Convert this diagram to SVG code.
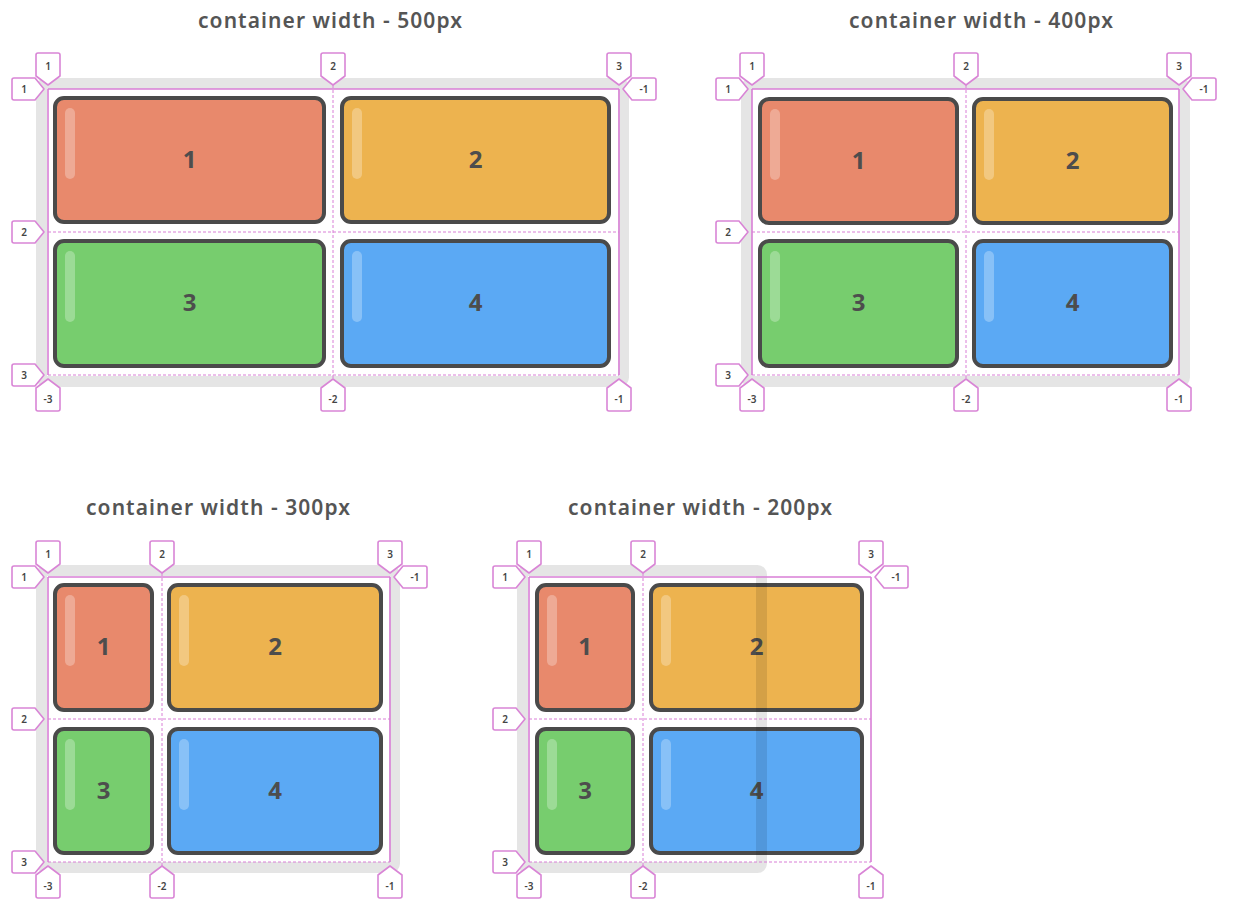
<svg xmlns="http://www.w3.org/2000/svg" xmlns:xlink="http://www.w3.org/1999/xlink" width="1260" height="908" viewBox="0 0 1260 908">
<defs>
<style>
.title{font-family:"Noto Sans","Liberation Sans",sans-serif;font-size:21px;font-weight:600;fill:#555;text-anchor:middle}
.cont{fill:none;stroke:#000;stroke-opacity:0.1;stroke-width:11}
.tile{stroke:#4a4a4a;stroke-width:4}
.t1{fill:#e8896c}.t2{fill:#edb34f}.t3{fill:#77cd6e}.t4{fill:#5ba9f4}
.hl{fill:#fff;fill-opacity:0.28}
.num{font-family:"Noto Sans","Liberation Sans",sans-serif;font-size:24px;font-weight:700;fill:#4d4d4d;text-anchor:middle}
.ln{stroke:#d97fd6;stroke-width:1.6;fill:none}
.dl{stroke:#d97fd6;stroke-width:1;stroke-dasharray:3 2;fill:none}
.tag{fill:#fff;stroke:#d985d6;stroke-width:1.6;stroke-linejoin:round}
.tt{font-family:"Noto Sans","Liberation Sans",sans-serif;font-size:10px;font-weight:600;fill:#444;text-anchor:middle}
</style>
<path id="tagD" d="M-12,-34 q0,-2 2,-2 h20 q2,0 2,2 v21 l-12,9 l-12,-9 z"/>
<path id="tagU" d="M-12,34 q0,2 2,2 h20 q2,0 2,-2 v-21 l-12,-9 l-12,9 z"/>
<path id="tagR" d="M-34,-11 q-2,0 -2,2 v18 q0,2 2,2 h21 l9,-11 l-9,-11 z"/>
<path id="tagL" d="M35,-11 q2,0 2,2 v18 q0,2 -2,2 h-22 l-9,-11 l9,-11 z"/>
</defs>
<rect width="1260" height="908" fill="#fff"/>

<!-- Panel 1 -->
<g id="panel1">
<text class="title" x="330" y="28" textLength="264" lengthAdjust="spacing">container width - 500px</text>
<g id="p1-tile1"><rect class="tile t1" x="55" y="98" width="269" height="124" rx="9"/><rect class="hl" x="65" y="108" width="10" height="71" rx="5"/><text class="num" x="189.5" y="168">1</text></g>
<g id="p1-tile2"><rect class="tile t2" x="342" y="98" width="267" height="124" rx="9"/><rect class="hl" x="352" y="108" width="10" height="71" rx="5"/><text class="num" x="475.5" y="168">2</text></g>
<g id="p1-tile3"><rect class="tile t3" x="55" y="241" width="269" height="125" rx="9"/><rect class="hl" x="65" y="251" width="10" height="71" rx="5"/><text class="num" x="189.5" y="311">3</text></g>
<g id="p1-tile4"><rect class="tile t4" x="342" y="241" width="267" height="125" rx="9"/><rect class="hl" x="352" y="251" width="10" height="71" rx="5"/><text class="num" x="475.5" y="311">4</text></g>
<rect id="p1-container" class="cont" x="41.5" y="83.5" width="582" height="298" rx="4"/>
</g>

<!-- Panel 2 -->
<g id="panel2">
<text class="title" x="981" y="28" textLength="264" lengthAdjust="spacing">container width - 400px</text>
<g id="p2-tile1"><rect class="tile t1" x="760" y="99" width="197" height="124" rx="9"/><rect class="hl" x="770" y="109" width="10" height="71" rx="5"/><text class="num" x="858.5" y="169">1</text></g>
<g id="p2-tile2"><rect class="tile t2" x="974" y="99" width="197" height="124" rx="9"/><rect class="hl" x="984" y="109" width="10" height="71" rx="5"/><text class="num" x="1072.5" y="169">2</text></g>
<g id="p2-tile3"><rect class="tile t3" x="760" y="241" width="197" height="125" rx="9"/><rect class="hl" x="770" y="251" width="10" height="71" rx="5"/><text class="num" x="858.5" y="311">3</text></g>
<g id="p2-tile4"><rect class="tile t4" x="974" y="241" width="197" height="125" rx="9"/><rect class="hl" x="984" y="251" width="10" height="71" rx="5"/><text class="num" x="1072.5" y="311">4</text></g>
<rect id="p2-container" class="cont" x="746.5" y="83.5" width="438" height="298" rx="4"/>
</g>

<!-- Panel 3 -->
<g id="panel3">
<text class="title" x="218" y="515" textLength="264" lengthAdjust="spacing">container width - 300px</text>
<g id="p3-tile1"><rect class="tile t1" x="55" y="585" width="97" height="125" rx="9"/><rect class="hl" x="65" y="595" width="10" height="71" rx="5"/><text class="num" x="103.5" y="655">1</text></g>
<g id="p3-tile2"><rect class="tile t2" x="169" y="585" width="212" height="125" rx="9"/><rect class="hl" x="179" y="595" width="10" height="71" rx="5"/><text class="num" x="275" y="655">2</text></g>
<g id="p3-tile3"><rect class="tile t3" x="55" y="729" width="97" height="124" rx="9"/><rect class="hl" x="65" y="739" width="10" height="71" rx="5"/><text class="num" x="103.5" y="799">3</text></g>
<g id="p3-tile4"><rect class="tile t4" x="169" y="729" width="212" height="124" rx="9"/><rect class="hl" x="179" y="739" width="10" height="71" rx="5"/><text class="num" x="275" y="799">4</text></g>
<rect id="p3-container" class="cont" x="41.5" y="570.5" width="353" height="297" rx="4"/>
</g>

<!-- Panel 4 -->
<g id="panel4">
<text class="title" x="700" y="515" textLength="264" lengthAdjust="spacing">container width - 200px</text>
<g id="p4-tile1"><rect class="tile t1" x="537" y="585" width="96" height="125" rx="9"/><rect class="hl" x="547" y="595" width="10" height="71" rx="5"/><text class="num" x="585" y="655">1</text></g>
<g id="p4-tile2"><rect class="tile t2" x="651" y="585" width="211" height="125" rx="9"/><rect class="hl" x="661" y="595" width="10" height="71" rx="5"/><text class="num" x="756.5" y="655">2</text></g>
<g id="p4-tile3"><rect class="tile t3" x="537" y="729" width="96" height="124" rx="9"/><rect class="hl" x="547" y="739" width="10" height="71" rx="5"/><text class="num" x="585" y="799">3</text></g>
<g id="p4-tile4"><rect class="tile t4" x="651" y="729" width="211" height="124" rx="9"/><rect class="hl" x="661" y="739" width="10" height="71" rx="5"/><text class="num" x="756.5" y="799">4</text></g>
<rect id="p4-container" class="cont" x="522.5" y="570.5" width="239" height="297" rx="4"/>
</g>

<!-- Grid lines -->
<g id="connectors">
<path class="ln" d="M48,89 H619 M48,89 V375 M619,89 V375"/>
<path class="dl" d="M48,232 H619 M48,375 H619 M333,85 V379"/>
<path class="ln" d="M752,89 H1179 M752,89 V375 M1179,89 V375"/>
<path class="dl" d="M752,232 H1179 M752,375 H1179 M966,85 V379"/>
<path class="ln" d="M48,577 H390 M48,577 V862 M390,577 V862"/>
<path class="dl" d="M48,719 H390 M48,862 H390 M162,573 V866"/>
<path class="ln" d="M529,577 H871 M529,577 V862 M871,577 V862"/>
<path class="dl" d="M529,719 H871 M529,862 H871 M643,573 V866"/>
</g>

<!-- Tags panel 1 -->
<g id="p1-tags">
<use href="#tagD" class="tag" x="48" y="89"/><text class="tt" x="48" y="70">1</text>
<use href="#tagD" class="tag" x="333" y="89"/><text class="tt" x="333" y="70">2</text>
<use href="#tagD" class="tag" x="619" y="89"/><text class="tt" x="619" y="70">3</text>
<use href="#tagR" class="tag" x="48" y="89"/><text class="tt" x="24" y="92.5">1</text>
<use href="#tagR" class="tag" x="48" y="232"/><text class="tt" x="24" y="235.5">2</text>
<use href="#tagR" class="tag" x="48" y="375"/><text class="tt" x="24" y="378.5">3</text>
<use href="#tagL" class="tag" x="619" y="89"/><text class="tt" x="644" y="92.5">-1</text>
<use href="#tagU" class="tag" x="48" y="375"/><text class="tt" x="48" y="403">-3</text>
<use href="#tagU" class="tag" x="333" y="375"/><text class="tt" x="333" y="403">-2</text>
<use href="#tagU" class="tag" x="619" y="375"/><text class="tt" x="619" y="403">-1</text>
</g>
<!-- Tags panel 2 -->
<g id="p2-tags">
<use href="#tagD" class="tag" x="752" y="89"/><text class="tt" x="752" y="70">1</text>
<use href="#tagD" class="tag" x="966" y="89"/><text class="tt" x="966" y="70">2</text>
<use href="#tagD" class="tag" x="1179" y="89"/><text class="tt" x="1179" y="70">3</text>
<use href="#tagR" class="tag" x="752" y="89"/><text class="tt" x="728" y="92.5">1</text>
<use href="#tagR" class="tag" x="752" y="232"/><text class="tt" x="728" y="235.5">2</text>
<use href="#tagR" class="tag" x="752" y="375"/><text class="tt" x="728" y="378.5">3</text>
<use href="#tagL" class="tag" x="1179" y="89"/><text class="tt" x="1204" y="92.5">-1</text>
<use href="#tagU" class="tag" x="752" y="375"/><text class="tt" x="752" y="403">-3</text>
<use href="#tagU" class="tag" x="966" y="375"/><text class="tt" x="966" y="403">-2</text>
<use href="#tagU" class="tag" x="1179" y="375"/><text class="tt" x="1179" y="403">-1</text>
</g>
<!-- Tags panel 3 -->
<g id="p3-tags">
<use href="#tagD" class="tag" x="48" y="577"/><text class="tt" x="48" y="558">1</text>
<use href="#tagD" class="tag" x="162" y="577"/><text class="tt" x="162" y="558">2</text>
<use href="#tagD" class="tag" x="390" y="577"/><text class="tt" x="390" y="558">3</text>
<use href="#tagR" class="tag" x="48" y="577"/><text class="tt" x="24" y="580.5">1</text>
<use href="#tagR" class="tag" x="48" y="719"/><text class="tt" x="24" y="722.5">2</text>
<use href="#tagR" class="tag" x="48" y="862"/><text class="tt" x="24" y="865.5">3</text>
<use href="#tagL" class="tag" x="390" y="577"/><text class="tt" x="415" y="580.5">-1</text>
<use href="#tagU" class="tag" x="48" y="862"/><text class="tt" x="48" y="890">-3</text>
<use href="#tagU" class="tag" x="162" y="862"/><text class="tt" x="162" y="890">-2</text>
<use href="#tagU" class="tag" x="390" y="862"/><text class="tt" x="390" y="890">-1</text>
</g>
<!-- Tags panel 4 -->
<g id="p4-tags">
<use href="#tagD" class="tag" x="529" y="577"/><text class="tt" x="529" y="558">1</text>
<use href="#tagD" class="tag" x="643" y="577"/><text class="tt" x="643" y="558">2</text>
<use href="#tagD" class="tag" x="871" y="577"/><text class="tt" x="871" y="558">3</text>
<use href="#tagR" class="tag" x="529" y="577"/><text class="tt" x="505" y="580.5">1</text>
<use href="#tagR" class="tag" x="529" y="719"/><text class="tt" x="505" y="722.5">2</text>
<use href="#tagR" class="tag" x="529" y="862"/><text class="tt" x="505" y="865.5">3</text>
<use href="#tagL" class="tag" x="871" y="577"/><text class="tt" x="896" y="580.5">-1</text>
<use href="#tagU" class="tag" x="529" y="862"/><text class="tt" x="529" y="890">-3</text>
<use href="#tagU" class="tag" x="643" y="862"/><text class="tt" x="643" y="890">-2</text>
<use href="#tagU" class="tag" x="871" y="862"/><text class="tt" x="871" y="890">-1</text>
</g>
</svg>
